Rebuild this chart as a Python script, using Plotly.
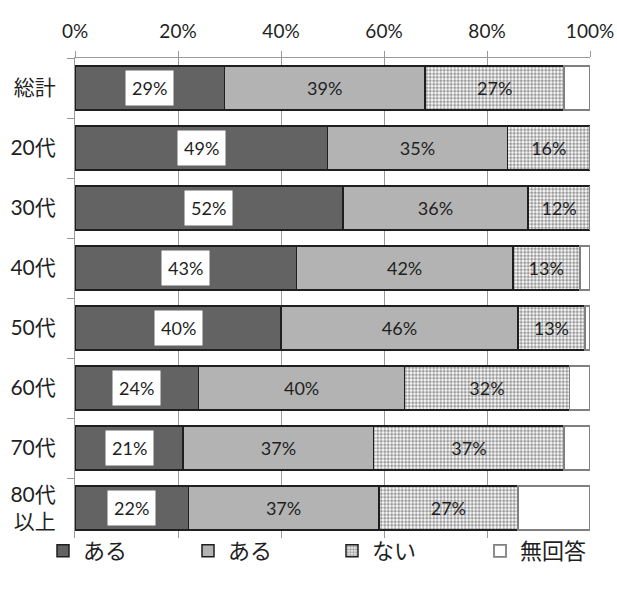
import numpy as np
import plotly.graph_objects as go

# Age groups (top to bottom) and answer shares in percent
categories = ["総計", "20代", "30代", "40代", "50代", "60代", "70代", "80代<br>以上"]
series_names = ["ある", "ある", "ない", "無回答"]
often = [29, 49, 52, 43, 40, 24, 21, 22]
sometimes = [39, 35, 36, 42, 46, 40, 37, 37]
never = [27, 16, 12, 13, 13, 32, 37, 27]
no_answer = [5, 0, 0, 2, 1, 4, 5, 14]
tick_values = [0, 20, 40, 60, 80, 100]
tick_labels = ["0%", "20%", "40%", "60%", "80%", "100%"]

FONT = "Lato, 'Noto Sans CJK JP', sans-serif"
TEXT = "#1f1f1f"
EDGE = "#1f1f1f"
AXIS = "#999999"
W, H = 617, 592

fig = go.Figure()

fig.add_trace(go.Bar(
    y=categories, x=often, name=series_names[0], orientation="h",
    legend="legend",
    marker=dict(color="#636363", line=dict(color=EDGE, width=1.5)),
))
fig.add_trace(go.Bar(
    y=categories, x=sometimes, name=series_names[1], orientation="h",
    legend="legend2",
    marker=dict(color="#b3b3b3", line=dict(color=EDGE, width=1.5)),
    text=[f"{v}%" for v in sometimes], textposition="inside",
    insidetextanchor="middle", textangle=0, constraintext="none",
    insidetextfont=dict(family=FONT, size=18, color=TEXT),
))
fig.add_trace(go.Bar(
    y=categories, x=never, name=series_names[2], orientation="h",
    legend="legend3",
    marker=dict(
        color="white", line=dict(color=EDGE, width=1.5),
        pattern=dict(shape=".", fgcolor="#333333", bgcolor="white",
                     size=3.5, solidity=0.55, fillmode="overlay"),
    ),
    text=[f"{v}%" for v in never], textposition="inside",
    insidetextanchor="middle", textangle=0, constraintext="none",
    insidetextfont=dict(family=FONT, size=18, color=TEXT),
))
fig.add_trace(go.Bar(
    y=categories, x=no_answer, name=series_names[3], orientation="h",
    legend="legend4",
    marker=dict(color="white", line=dict(color="#808080", width=1.8)),
))

# Labels of the first segment sit in white boxes
often_mid = np.array(often) / 2
for cat, v, xm in zip(categories, often, often_mid):
    fig.add_annotation(
        x=xm, y=cat, xref="x", yref="y", text=f"{v}%", showarrow=False,
        font=dict(family=FONT, size=18, color=TEXT),
        bgcolor="white", borderpad=6,
    )


def legend_box(left_px):
    # one single-entry legend per series, laid out in a row under the plot
    return dict(
        orientation="h", xref="container", yref="container",
        x=left_px / W, y=1 - 551 / H, xanchor="left", yanchor="middle",
        font=dict(family=FONT, size=22, color=TEXT),
        itemclick=False, bgcolor="rgba(0,0,0,0)",
    )


fig.update_layout(
    width=W, height=H,
    barmode="stack", bargap=0.27,
    paper_bgcolor="white", plot_bgcolor="white",
    margin=dict(l=75, r=27, t=58, b=54, autoexpand=False),
    font=dict(family=FONT, color=TEXT),
    showlegend=True,
    legend=legend_box(43),
    legend2=legend_box(188),
    legend3=legend_box(332),
    legend4=legend_box(480),
    xaxis=dict(
        side="top", range=[0, 100], tickvals=tick_values, ticktext=tick_labels,
        showgrid=True, gridcolor=AXIS, gridwidth=1,
        showline=True, linecolor=AXIS, linewidth=1,
        ticks="outside", ticklen=6, tickcolor=AXIS, ticklabelstandoff=5,
        tickfont=dict(family=FONT, size=19, color=TEXT),
        zeroline=False, fixedrange=True,
    ),
    yaxis=dict(
        autorange="reversed", showline=True, linecolor=AXIS, linewidth=1,
        ticks="outside", ticklen=7, tickcolor=AXIS, tickson="boundaries",
        ticklabelstandoff=14,
        tickfont=dict(family=FONT, size=21, color=TEXT),
        showgrid=False, fixedrange=True,
    ),
)

fig.write_html("out.html")
